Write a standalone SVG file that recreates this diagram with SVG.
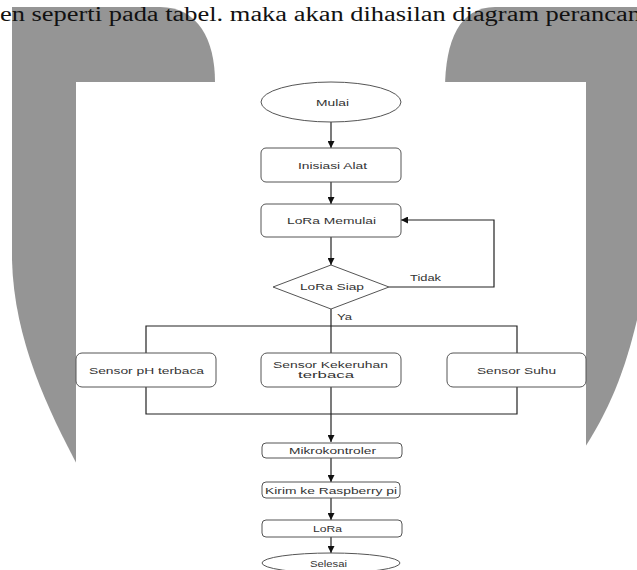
<svg xmlns="http://www.w3.org/2000/svg" width="637" height="570" viewBox="0 0 637 570">
<style>
.bg{fill:#959595}
.box{fill:#fff;stroke:#555;stroke-width:1}
.lbl{font-family:"Liberation Sans",Arial,sans-serif;font-size:9.5px;fill:#333;text-anchor:middle;dominant-baseline:central}
.sm{font-size:8.5px}
.ln{fill:none;stroke:#222;stroke-width:1.2}
.hd{font-family:"Liberation Serif","Times New Roman",serif;font-size:20px;fill:#111}
</style>
<defs>
<marker id="ah" viewBox="0 0 10 10" refX="10" refY="5" markerWidth="7" markerHeight="7" markerUnits="userSpaceOnUse" orient="auto">
<path d="M0,0 L10,5 L0,10 Z" fill="#111"/>
</marker>
</defs>
<rect width="637" height="570" fill="#fff"/>
<g id="background">
<path class="bg" d="M12,7 H160 C198,7 215,40 215,82 V470 H80 C48,410 14,340 12,260 Z"/>
<path class="bg" d="M445,90 C445,40 460,7 495,7 H637 V320 C625,370 610,410 580,455 H445 Z"/>
<text class="hd" x="0" y="20.5" textLength="641" lengthAdjust="spacingAndGlyphs">en seperti pada tabel. maka akan dihasilan diagram perancan</text>
<rect x="76" y="82" width="510" height="490" fill="#fff"/>
</g>
<g id="connectors">
<line class="ln" x1="331" y1="122" x2="331" y2="148" marker-end="url(#ah)"/>
<line class="ln" x1="331" y1="182" x2="331" y2="204" marker-end="url(#ah)"/>
<line class="ln" x1="331" y1="237" x2="331" y2="265" marker-end="url(#ah)"/>
<polyline class="ln" points="389,287 494,287 494,220 401,220" marker-end="url(#ah)"/>
<line class="ln" x1="331" y1="309" x2="331" y2="442" marker-end="url(#ah)"/>
<polyline class="ln" points="146,353 146,326 517,326 517,353"/>
<polyline class="ln" points="146,387 146,414 517,414 517,387"/>
<line class="ln" x1="331" y1="458" x2="331" y2="482" marker-end="url(#ah)"/>
<line class="ln" x1="331" y1="498" x2="331" y2="520" marker-end="url(#ah)"/>
<line class="ln" x1="331" y1="537" x2="331" y2="553" marker-end="url(#ah)"/>
<text class="lbl" x="425.5" y="277" textLength="31" lengthAdjust="spacingAndGlyphs">Tidak</text>
<text class="lbl" x="344.5" y="316" textLength="15" lengthAdjust="spacingAndGlyphs">Ya</text>
</g>
<g id="mulai">
<ellipse class="box" cx="331" cy="102" rx="70" ry="20"/>
<text class="lbl" x="332.5" y="102.5" textLength="33" lengthAdjust="spacingAndGlyphs">Mulai</text>
</g>
<g id="inisiasi">
<rect class="box" x="261" y="148" width="140" height="34" rx="5"/>
<text class="lbl" x="332.5" y="165" textLength="69" lengthAdjust="spacingAndGlyphs">Inisiasi Alat</text>
</g>
<g id="lora-memulai">
<rect class="box" x="261" y="204" width="140" height="33" rx="5"/>
<text class="lbl" x="331.5" y="220.5" textLength="89" lengthAdjust="spacingAndGlyphs">LoRa Memulai</text>
</g>
<g id="lora-siap">
<polygon class="box" points="331,265 389,287 331,309 273,287"/>
<text class="lbl" x="332" y="286.5" textLength="64" lengthAdjust="spacingAndGlyphs">LoRa Siap</text>
</g>
<g id="sensor-ph">
<rect class="box" x="76" y="353" width="140" height="34" rx="6"/>
<text class="lbl" x="146.5" y="370" textLength="115" lengthAdjust="spacingAndGlyphs">Sensor pH terbaca</text>
</g>
<g id="sensor-kekeruhan">
<rect class="box" x="261" y="353" width="140" height="34" rx="6"/>
<text class="lbl sm" x="330.5" y="364.5" textLength="115" lengthAdjust="spacingAndGlyphs">Sensor Kekeruhan</text>
<text class="lbl sm" x="326" y="374.5" textLength="56" lengthAdjust="spacingAndGlyphs">terbaca</text>
</g>
<g id="sensor-suhu">
<rect class="box" x="447" y="353" width="139" height="34" rx="6"/>
<text class="lbl" x="516.5" y="370" textLength="79" lengthAdjust="spacingAndGlyphs">Sensor Suhu</text>
</g>
<g id="mikrokontroler">
<rect class="box" x="262" y="443" width="140" height="15" rx="4"/>
<text class="lbl" x="332.5" y="450.5" textLength="87" lengthAdjust="spacingAndGlyphs">Mikrokontroler</text>
</g>
<g id="kirim">
<rect class="box" x="262" y="482" width="138" height="16" rx="4"/>
<text class="lbl" x="331" y="490" textLength="132" lengthAdjust="spacingAndGlyphs">Kirim ke Raspberry pi</text>
</g>
<g id="lora">
<rect class="box" x="262" y="520" width="140" height="17" rx="4"/>
<text class="lbl" x="327.5" y="528.5" textLength="29" lengthAdjust="spacingAndGlyphs">LoRa</text>
</g>
<g id="selesai">
<ellipse class="box" cx="331" cy="563" rx="69" ry="10"/>
<text class="lbl" x="328.5" y="563" textLength="37" lengthAdjust="spacingAndGlyphs">Selesai</text>
</g>
</svg>
